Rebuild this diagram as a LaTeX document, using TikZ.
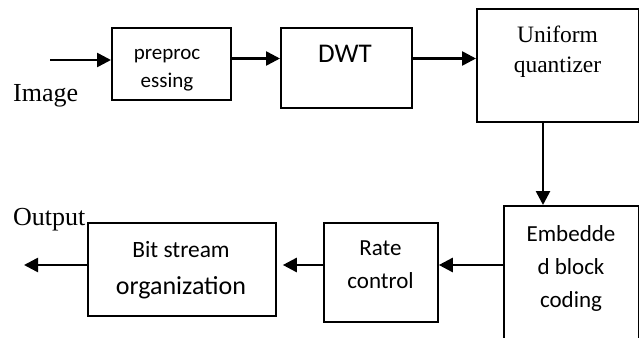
\documentclass[tikz,border=0pt]{standalone}
\usepackage{fontspec}
\setmainfont{Liberation Serif}
\newfontfamily\carlito{Carlito}
\usetikzlibrary{arrows.meta}

\begin{document}
\begin{tikzpicture}[x=1pt, y=-1pt]
    % Styles
    \tikzstyle{blk} = [rectangle, draw=black, line width=1.8pt, inner sep=0pt, anchor=north west]
    \tikzstyle{arrow} = [-{Triangle[length=14pt, width=14pt]}, line width=2.6pt]
    \tikzstyle{sans} = [align=center, inner sep=0pt]
    \tikzstyle{serif} = [align=center, inner sep=0pt]

    \useasboundingbox (0,0) rectangle (639,337);

    % Nodes
    \node[blk, minimum width=119pt, minimum height=72pt] (pre) at (111,27) {};
    \node[blk, minimum width=131pt, minimum height=80pt] (dwt) at (280,27) {};
    \node[blk, minimum width=162pt, minimum height=113pt] (uq) at (476,8) {};
    \node[blk, minimum width=135pt, minimum height=150pt] (ebc) at (503,205) {};
    \node[blk, minimum width=114pt, minimum height=99pt] (rc) at (323,222) {};
    \node[blk, minimum width=188pt, minimum height=93pt] (bs) at (87,222) {};

    % Texts
    \node[sans, font=\fontsize{21}{28}\carlito] (pretext) at (167,70.5) {preproc\\essing};
    \node[sans, font=\fontsize{27}{32}\carlito, anchor=base] (dwttext) at (345,63) {DWT};
    \node[serif, font=\fontsize{23.5}{30}\selectfont] (uqtext) at (557.5,51.5) {Uniform\\quantizer};
    \node[sans, font=\fontsize{23}{33}\carlito] (ebctext) at (571,268.3) {Embedde\\d block\\coding};
    \node[sans, font=\fontsize{23}{33}\carlito] (rctext) at (380.5,265) {Rate\\control};
    \node[sans, font=\fontsize{23.4}{37}\carlito] (bstext) at (181,269.8)
        {Bit stream\\{\fontsize{26}{37}\selectfont organization}};
    \node[serif, font=\fontsize{26}{30}\selectfont, anchor=base west] (imglabel) at (13,101) {Image};
    \node[serif, font=\fontsize{26}{30}\selectfont, anchor=base west] (outlabel) at (13,225) {Output};

    % Arrows
    \coordinate (in) at (50,60);
    \coordinate (out) at (24,265);
    \coordinate (r1) at (0,58.5);
    \coordinate (r3) at (0,265);
    \coordinate (c1) at (543,0);
    \draw[arrow] (in) -- (in -| pre.west);
    \draw[arrow] (pre.east |- r1) -- (dwt.west |- r1);
    \draw[arrow] (dwt.east |- r1) -- (uq.west |- r1);
    \draw[arrow] (uq.south -| c1) -- (ebc.north -| c1);
    \draw[arrow] (ebc.west |- r3) -- (rc.east |- r3);
    \draw[arrow, shorten >=6pt] (rc.west |- r3) -- (bs.east |- r3);
    \draw[arrow] (bs.west |- r3) -- (out);
\end{tikzpicture}
\end{document}
